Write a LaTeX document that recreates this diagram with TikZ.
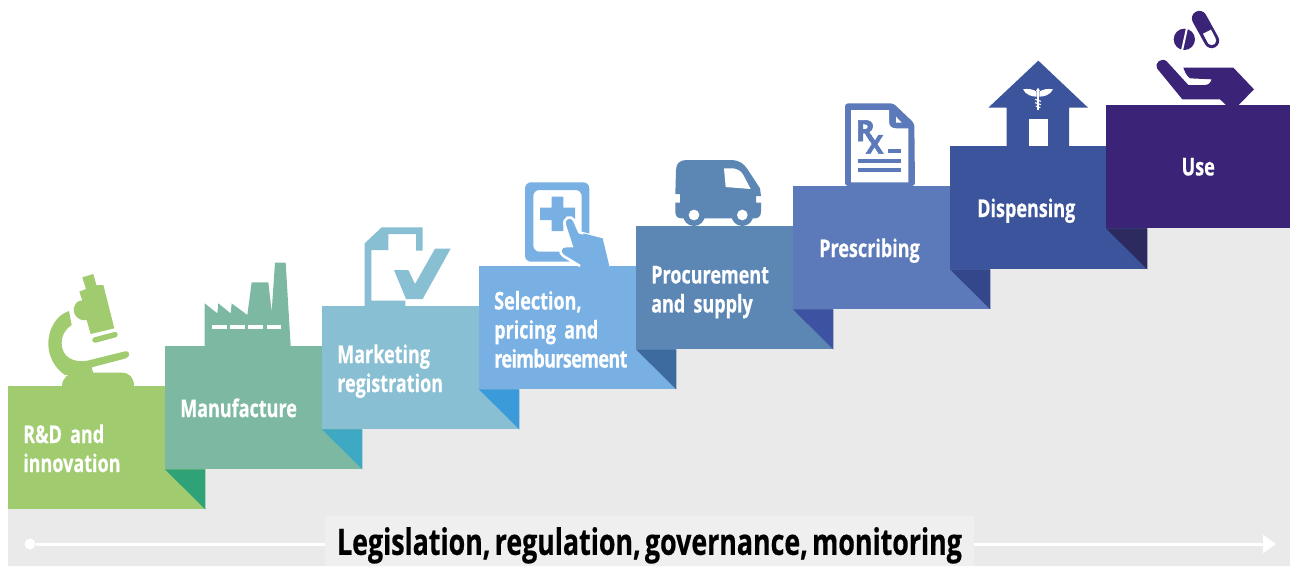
\documentclass[tikz,border=0pt]{standalone}
\usepackage{fontspec}
\usepackage{xcolor}
\usetikzlibrary{arrows.meta, positioning}
\newfontfamily\stepfont[FakeStretch=0.735, FakeBold=0.5, WordSpace=0.6]{Open Sans}
\newfontfamily\rxfont[FakeBold=2.2]{Open Sans}
\definecolor{rdcol}{HTML}{A0CB6F}
\definecolor{rdfold}{HTML}{2FA377}
\definecolor{mancol}{HTML}{7DB9A2}
\definecolor{manfold}{HTML}{3FA9C4}
\definecolor{regcol}{HTML}{89BFD2}
\definecolor{regfold}{HTML}{3A9ADA}
\definecolor{selcol}{HTML}{78B0E3}
\definecolor{selfold}{HTML}{3D6A9F}
\definecolor{proccol}{HTML}{5C87B5}
\definecolor{procfold}{HTML}{3D52A0}
\definecolor{prescol}{HTML}{5C7AB9}
\definecolor{presfold}{HTML}{34478A}
\definecolor{dispcol}{HTML}{3C549C}
\definecolor{dispfold}{HTML}{2C2A5E}
\definecolor{usecol}{HTML}{3B2477}
\definecolor{stairgray}{HTML}{EAEAEA}
\definecolor{capgray}{HTML}{EFEFEF}

\begin{document}
\begin{tikzpicture}[x=1pt, y=-1pt]
    \tikzstyle{stepbox} = [anchor=north west, inner xsep=15pt, inner ysep=0pt,
        minimum height=123pt, text width=167pt, align=left, text=white,
        font=\stepfont\bfseries\fontsize{24.5}{29}\selectfont]
    \useasboundingbox (0,0) rectangle (1290,566);
    \fill[white] (0,0) rectangle (1290,566);
    \fill[stairgray] (8,509) -- (8,566) -- (1290,566) -- (1290,228) -- (1147,228)
        -- (1147,269) -- (990,269) -- (990,309) -- (833,309) -- (833,349)
        -- (676,349) -- (676,389) -- (519,389) -- (519,429) -- (362,429)
        -- (362,469) -- (205,469) -- (205,509) -- cycle;

    % steps, each one above the fold of the one before
    \node [stepbox, fill=rdcol, text depth=28pt] at (8,386) (rd) {R\&D and\\innovation};
    \node [stepbox, fill=mancol, text depth=-4pt] at (165,346) (manufacture) {Manufacture};
    \fill[rdfold] (manufacture.south west) -- (rd.south east |- manufacture.south)
        -- (rd.south east) -- cycle;
    \node [stepbox, fill=regcol, text depth=28pt] at (322,306) (registration) {Marketing\\registration};
    \fill[manfold] (registration.south west) -- (manufacture.south east |- registration.south)
        -- (manufacture.south east) -- cycle;
    \node [stepbox, fill=selcol, text depth=55pt] at (479,266) (selection)
        {Selection,\\pricing and\\{\addfontfeature{LetterSpace=-2.5}reimbursement}};
    \fill[regfold] (selection.south west) -- (registration.south east |- selection.south)
        -- (registration.south east) -- cycle;
    \node [stepbox, fill=proccol, text depth=26pt] at (636,226) (procurement) {Procurement\\and supply};
    \fill[selfold] (procurement.south west) -- (selection.south east |- procurement.south)
        -- (selection.south east) -- cycle;
    \node [stepbox, fill=prescol, text depth=-4pt] at (793,186) (prescribing) {\hspace*{11pt}Prescribing};
    \fill[procfold] (prescribing.south west) -- (procurement.south east |- prescribing.south)
        -- (procurement.south east) -- cycle;
    \node [stepbox, fill=dispcol, text depth=-2pt] at (950,146) (dispensing) {\hspace*{12pt}Dispensing};
    \fill[presfold] (dispensing.south west) -- (prescribing.south east |- dispensing.south)
        -- (prescribing.south east) -- cycle;
    \node [stepbox, fill=usecol, text width=154pt, align=center, text depth=-2pt] at (1106,105) (use) {Use};
    \fill[dispfold] (use.south west) -- (dispensing.south east |- use.south)
        -- (dispensing.south east) -- cycle;

    % microscope and factory
    \begin{scope}[shift={(0,250)}, scale=1/3]
        \fill[rdcol] (207,183) .. controls (170,195) and (145,235) .. (145,282)
            .. controls (145,320) and (165,355) .. (195,375) -- (280,370) -- (275,352)
            -- (378,325) .. controls (392,320) and (390,300) .. (375,304) -- (262,332)
            .. controls (220,340) and (185,320) .. (185,280)
            .. controls (185,255) and (198,235) .. (215,225) -- cycle;
        \fill[rdcol] (186,408) .. controls (186,385) and (205,368) .. (230,368) -- (365,368)
            .. controls (390,368) and (402,385) .. (402,408) -- cycle;
        \fill[rdcol] (247,82) -- (280,72) -- (289,105) -- (310,105) -- (343,235) -- (272,252)
            -- (260,210) .. controls (235,215) and (212,190) .. (225,165)
            .. controls (230,155) and (240,150) .. (247,152) -- (238,125) -- (258,117) -- cycle;
        \draw[rdcol, line width=5.5pt, line cap=round] (285,270) -- (345,254);
        \fill[mancol] (614,288) -- (614,160) -- (652,190) -- (655,160) -- (692,190)
            -- (695,160) -- (742,195) -- (755,97) -- (805,97) -- (815,185) -- (825,38)
            -- (857,38) -- (872,288) -- cycle;
        \fill[white] (635,224) rectangle (680,238);
        \fill[white] (690,224) rectangle (735,238);
        \fill[white] (745,224) rectangle (790,238);
        \fill[white] (800,224) rectangle (843,238);
    \end{scope}

    % checked form, tablet and hand
    \begin{scope}[shift={(320,170)}, scale=1/3]
        \fill[regcol] (134,408) -- (134,220) -- (185,172) -- (308,172) -- (308,242) -- (288,242)
            -- (288,192) -- (205,192) -- (205,240) -- (154,240) -- (154,392) -- (256,392)
            -- (256,408) -- cycle;
        \fill[regcol] (222,300) -- (265,300) -- (285,342) -- (345,236) -- (392,236) -- (308,387)
            -- (258,387) -- cycle;
        \fill[selcol, rounded corners=6pt, even odd rule] (615,37) rectangle (808,275)
            (640,60) rectangle (785,245);
        \fill[selcol] (695,80) -- (730,80) -- (730,113) -- (765,113) -- (765,150) -- (730,150)
            -- (730,183) -- (695,183) -- (695,150) -- (660,150) -- (660,113) -- (695,113) -- cycle;
        \draw[white, line width=2.5pt, fill=selcol] (868,288) -- (848,205) -- (778,187) -- (762,150)
            .. controls (755,135) and (725,140) .. (736,170) -- (755,228) -- (738,228)
            .. controls (720,228) and (715,248) .. (730,258) -- (780,288);
        \fill[selcol] (868,288) -- (848,205) -- (790,190) -- (790,288) -- cycle;
    \end{scope}

    % van and prescription
    \begin{scope}[shift={(660,90)}, scale=1/3]
        \fill[proccol] (46,312) -- (48,240) .. controls (48,220) and (60,210) .. (80,210)
            -- (215,210) .. controls (240,212) and (250,220) .. (262,237) -- (300,295)
            -- (303,318) -- (288,318) -- (288,338) -- (303,338) -- (303,365)
            .. controls (303,378) and (295,385) .. (285,385) -- (65,385)
            .. controls (52,385) and (46,378) .. (46,365) -- (46,338) -- (60,338)
            -- (60,312) -- cycle;
        \fill[proccol] (102,375) circle (33);
        \fill[proccol] (247,375) circle (33);
        \fill[white] (102,375) circle (16);
        \fill[white] (247,375) circle (16);
        \fill[white] (192,235) -- (220,235) .. controls (235,238) and (245,245) .. (250,255)
            -- (272,297) -- (197,291) -- cycle;
        \fill[prescol, rounded corners=3pt] (555,288) -- (555,40) -- (700,40) -- (763,100)
            -- (765,288) -- cycle;
        \fill[white] (573,60) -- (687,60) -- (687,95) .. controls (687,108) and (695,115) .. (708,115)
            -- (745,115) -- (745,277) -- (573,277) -- cycle;
        \fill[white] (708,80) -- (725,98) -- (708,98) -- cycle;
        \node [text=prescol, font=\rxfont\bfseries\fontsize{29}{29}\selectfont, inner sep=0pt]
            at (616,122) (rxr) {R};
        \node [text=prescol, font=\rxfont\bfseries\fontsize{26}{26}\selectfont, inner sep=0pt]
            at (644,163) (rxx) {X};
        \fill[prescol] (685,178) rectangle (724,190);
        \fill[prescol] (593,207) rectangle (724,219);
        \fill[prescol] (593,235) rectangle (724,247);
    \end{scope}

    % house with the staff, hand with pills
    \begin{scope}[shift={(970,0)}, scale=1/3]
        \fill[dispcol] (205,182) -- (354,323) -- (297,323) -- (297,438) -- (110,438) -- (110,323)
            -- (55,323) -- cycle;
        \fill[white] (177,358) rectangle (233,438);
        \fill[white] (159,268) .. controls (175,265) and (190,268) .. (200,275) -- (200,290)
            .. controls (185,290) and (168,285) .. cycle;
        \fill[white] (249,268) .. controls (233,265) and (218,268) .. (208,275) -- (208,290)
            .. controls (223,290) and (240,285) .. cycle;
        \draw[white, line width=1.3pt] (204,270) -- (204,330);
        \fill[white] (204,263) -- (210,273) -- (198,273) -- cycle;
        \draw[white, line width=1pt] (195,298) -- (213,304) (195,308) -- (213,314) (197,318) -- (211,323);

        \draw[usecol, line width=15pt, line cap=round] (688,55) -- (725,122);
        \draw[white, line width=9pt] (711,95) -- (725,122);
        \fill[white] (725,122) circle (13.5);
        \fill[usecol] (643,118) circle (32);
        \draw[white, line width=2pt] (636,152) -- (651,84);
        \fill[usecol] (561,205) .. controls (552,190) and (575,170) .. (590,184) -- (655,255)
            -- (705,255) .. controls (715,255) and (722,248) .. (725,238) -- (660,235)
            .. controls (650,228) and (644,215) .. (640,203) -- (790,203) -- (852,268)
            -- (806,315) -- (768,315) -- (750,298) -- (637,298) -- cycle;
    \end{scope}

    % caption with the line through it
    \node [fill=capgray, inner sep=0pt, minimum width=649pt, minimum height=50pt, text=black,
        text depth=-1pt, font=\stepfont\bfseries\fontsize{36.4}{36}\selectfont] at (649.5,541) (caption)
        {Legislation, regulation, governance, monitoring};
    \node [circle, fill=white, inner sep=0pt, minimum size=11pt] at (30,544) (linestart) {};
    \coordinate (lineend) at (1276,544);
    \draw[white, line width=3pt] (linestart) -- (linestart -| caption.west);
    \draw[white, line width=3pt, -{Triangle[length=13pt, width=18pt]}]
        (lineend -| caption.east) -- (lineend);
\end{tikzpicture}
\end{document}
